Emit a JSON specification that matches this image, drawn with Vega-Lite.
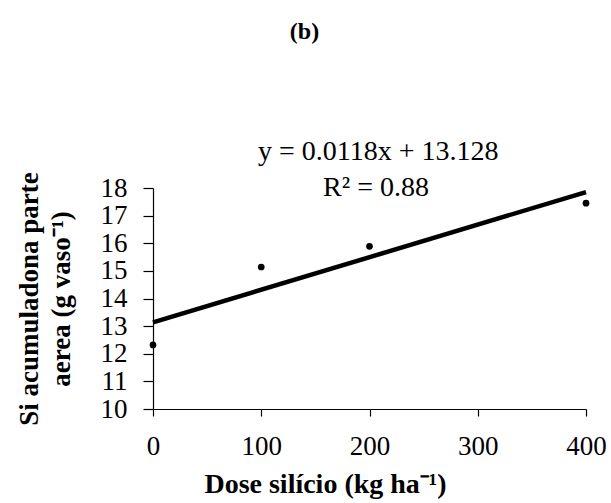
{
  "$schema": "https://vega.github.io/schema/vega-lite/v6.json",
  "width": 433,
  "height": 221,
  "autosize": "none",
  "padding": {"left": 153, "top": 188, "right": 25, "bottom": 94},
  "background": "white",
  "title": {
    "text": "(b)",
    "font": "Liberation Serif",
    "fontSize": 24,
    "fontWeight": "bold",
    "color": "black",
    "anchor": "middle",
    "dx": -65,
    "offset": 75,
    "baseline": "alphabetic"
  },
  "config": {
    "view": {"stroke": null},
    "axis": {
      "grid": false,
      "domainColor": "black",
      "domainWidth": 1.2,
      "tickColor": "black",
      "tickWidth": 1.2,
      "labelColor": "black",
      "titleColor": "black",
      "labelFont": "Liberation Serif",
      "titleFont": "Liberation Serif",
      "labelFontSize": 27,
      "labelOverlap": false,
      "titleFontWeight": "bold"
    }
  },
  "datasets": {
    "points": [
      {"dose": 0, "si": 12.32},
      {"dose": 100, "si": 15.14},
      {"dose": 200, "si": 15.89},
      {"dose": 400, "si": 17.45}
    ],
    "annot": [
      {"dose": 208, "si": 19.0, "label": "y = 0.0118x + 13.128"},
      {"dose": 206, "si": 17.7, "label": "R² = 0.88"}
    ]
  },
  "encoding": {
    "x": {
      "field": "dose",
      "type": "quantitative",
      "scale": {"domain": [0, 400], "nice": false, "zero": false},
      "axis": {
        "tickCount": 5,
        "tickSize": 7,
        "labelPadding": 17,
        "labelOverlap": false,
        "labelFlush": false,
        "labelSeparation": 0,
        "title": "Dose silício (kg ha⁻¹)",
        "titleFontSize": 28,
        "titlePadding": 11,
        "titleX": 172
      }
    },
    "y": {
      "field": "si",
      "type": "quantitative",
      "scale": {"domain": [10, 18], "nice": false, "zero": false},
      "axis": {
        "tickCount": 9,
        "tickSize": 10,
        "labelPadding": 16,
        "labelOverlap": false,
        "labelFlush": false,
        "labelSeparation": 0,
        "title": ["Si acumuladona parte", "aerea  (g vaso⁻¹)"],
        "titleFontSize": 27,
        "titleLineHeight": 32,
        "titlePadding": 25
      }
    }
  },
  "layer": [
    {
      "data": {"name": "points"},
      "transform": [{"regression": "si", "on": "dose", "extent": [0, 400]}],
      "mark": {"type": "line", "color": "black", "strokeWidth": 4.5}
    },
    {
      "data": {"name": "points"},
      "mark": {"type": "circle", "color": "black", "opacity": 1, "size": 45}
    },
    {
      "data": {"name": "annot"},
      "mark": {
        "type": "text",
        "font": "Liberation Serif",
        "fontSize": 28,
        "color": "black",
        "align": "center",
        "baseline": "alphabetic"
      },
      "encoding": {
        "text": {"field": "label"}
      }
    }
  ]
}
